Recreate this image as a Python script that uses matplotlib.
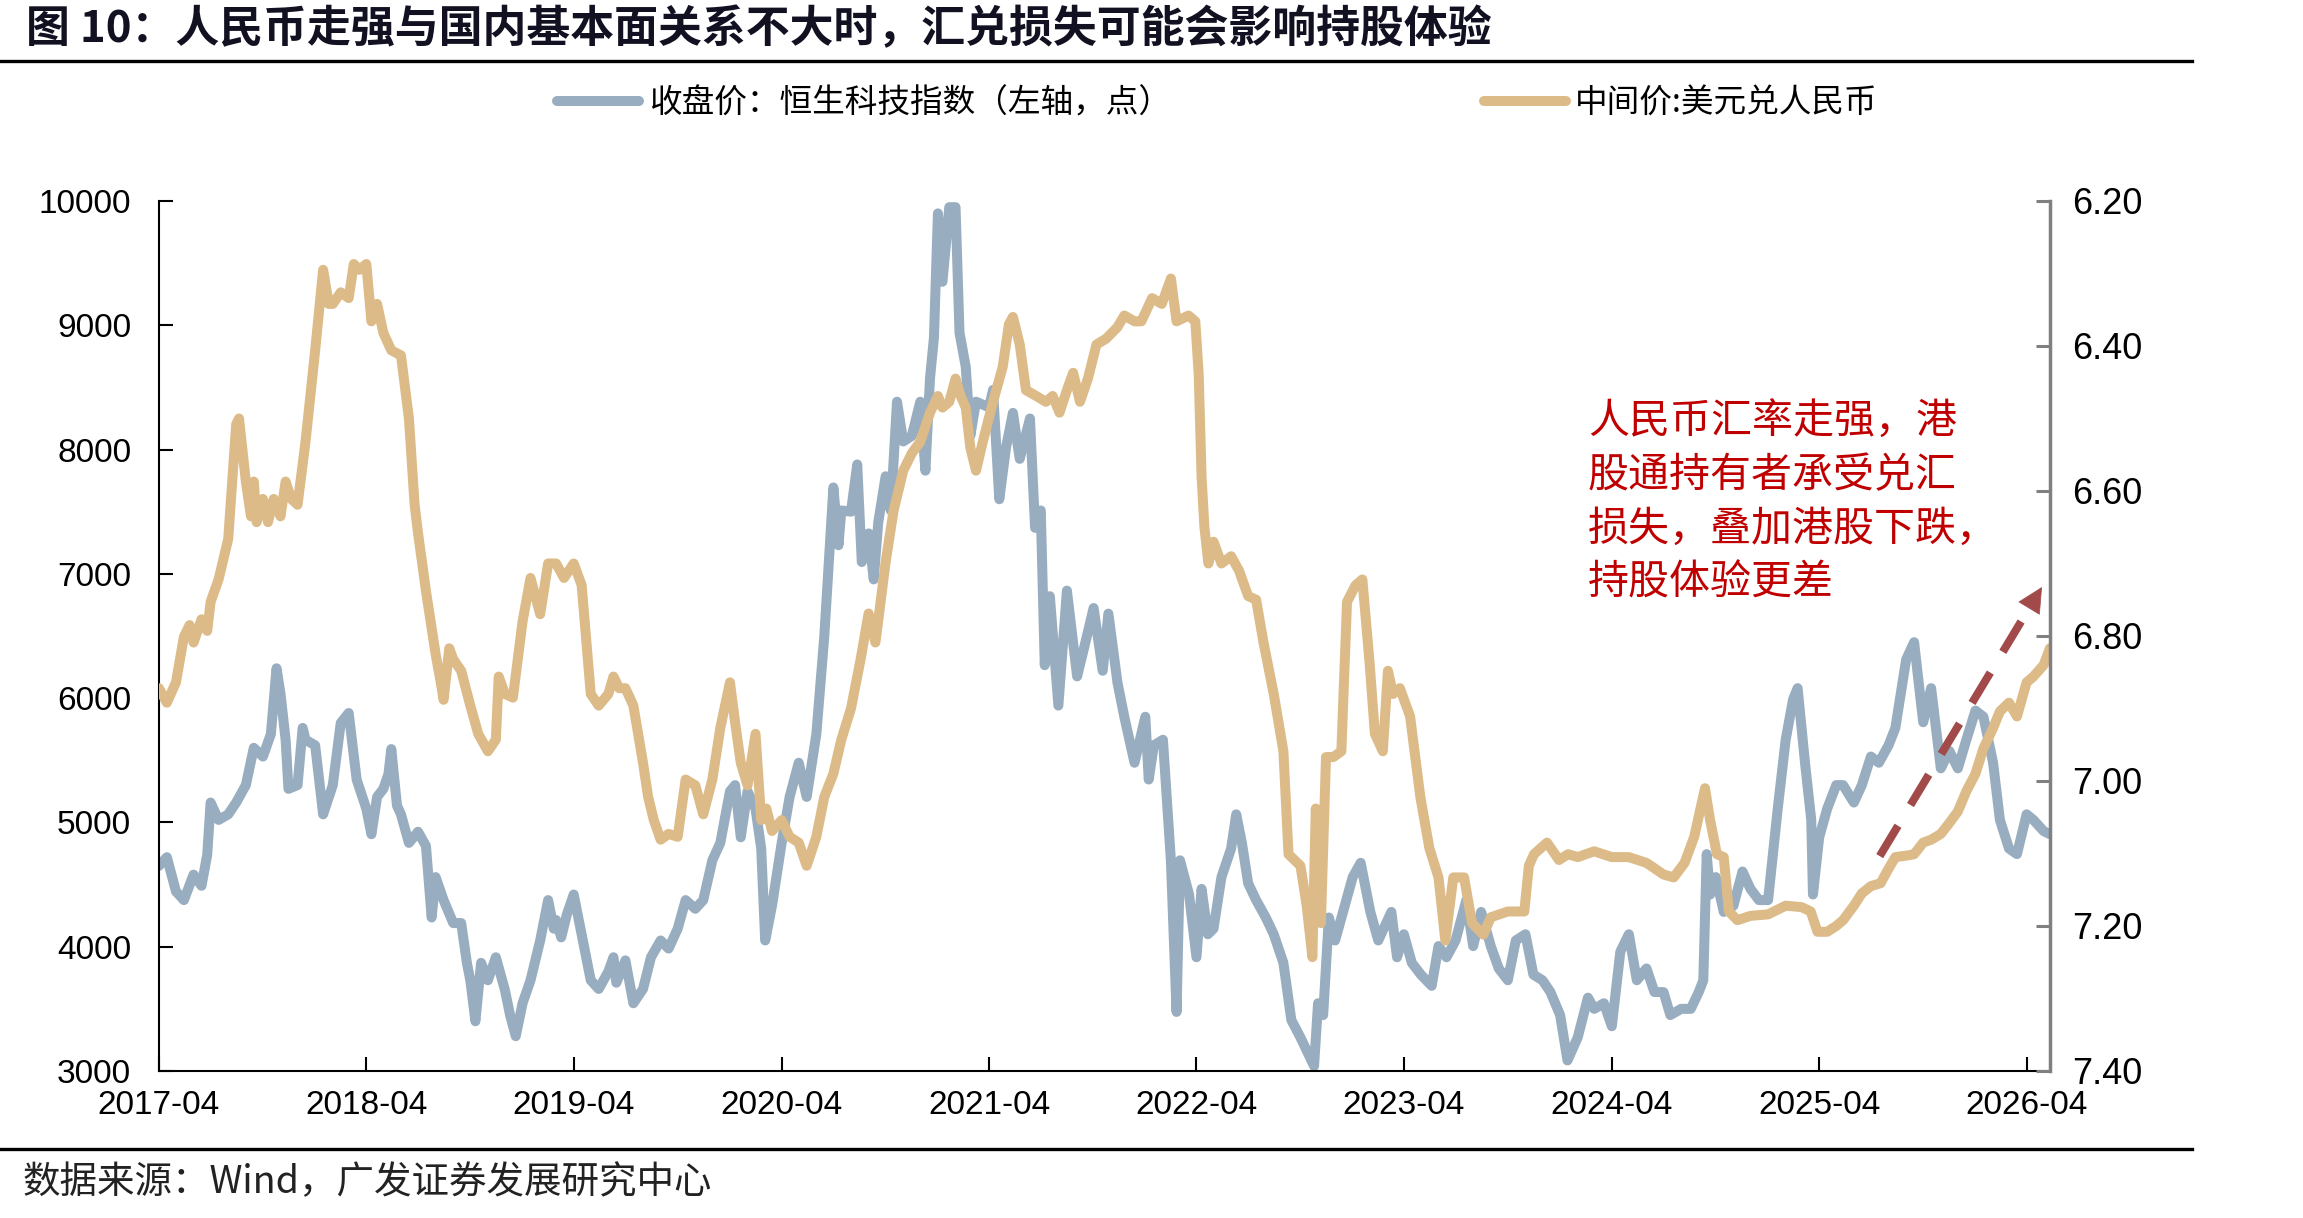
import matplotlib
matplotlib.use("Agg")
import matplotlib.pyplot as plt
import matplotlib.dates as mdates
from matplotlib.lines import Line2D
import pandas as pd

# ---------------- data ----------------
hs_dates = [
    # 2017
    "2017-04-01", "2017-04-15", "2017-05-01", "2017-05-15", "2017-06-01", "2017-06-15", "2017-06-25",
    "2017-07-01", "2017-07-15", "2017-08-01", "2017-08-15", "2017-09-01", "2017-09-15", "2017-10-01",
    "2017-10-15", "2017-10-25", "2017-11-01", "2017-11-10", "2017-11-15", "2017-12-01", "2017-12-10",
    "2017-12-15",
    # 2018
    "2018-01-01", "2018-01-15", "2018-02-01", "2018-02-15", "2018-03-01", "2018-03-15", "2018-04-01",
    "2018-04-10", "2018-04-20", "2018-05-01", "2018-05-10", "2018-05-15", "2018-05-25", "2018-06-01",
    "2018-06-15", "2018-07-01", "2018-07-15", "2018-07-25", "2018-08-01", "2018-08-15", "2018-09-01",
    "2018-09-15", "2018-09-25", "2018-10-01", "2018-10-10", "2018-10-20", "2018-11-01", "2018-11-15",
    "2018-12-01", "2018-12-10", "2018-12-20",
    # 2019
    "2019-01-01", "2019-01-15", "2019-02-01", "2019-02-15", "2019-02-25", "2019-03-01", "2019-03-10",
    "2019-03-20", "2019-04-01", "2019-04-15", "2019-05-01", "2019-05-15", "2019-06-01", "2019-06-10",
    "2019-06-15", "2019-07-01", "2019-07-15", "2019-08-01", "2019-08-15", "2019-09-01", "2019-09-15",
    "2019-10-01", "2019-10-15", "2019-11-01", "2019-11-15", "2019-12-01", "2019-12-15",
    # 2020
    "2020-01-01", "2020-01-10", "2020-01-20", "2020-02-01", "2020-02-15", "2020-02-25", "2020-03-03",
    "2020-03-15", "2020-04-01", "2020-04-15", "2020-05-01", "2020-05-15", "2020-06-01", "2020-06-15",
    "2020-07-01", "2020-07-10", "2020-07-15", "2020-08-01", "2020-08-12", "2020-08-20", "2020-09-01",
    "2020-09-10", "2020-09-18", "2020-10-01", "2020-10-10", "2020-10-21", "2020-11-01", "2020-11-16",
    "2020-12-01", "2020-12-10", "2020-12-18", "2020-12-25",
    # 2021
    "2021-01-01", "2021-01-09", "2021-01-21", "2021-02-01", "2021-02-08", "2021-02-19", "2021-02-27",
    "2021-03-09", "2021-04-01", "2021-04-08", "2021-04-19", "2021-05-01", "2021-05-13", "2021-05-25",
    "2021-06-12", "2021-06-21", "2021-07-01", "2021-07-08", "2021-07-17", "2021-08-01", "2021-08-16",
    "2021-09-03", "2021-09-15", "2021-10-02", "2021-10-18", "2021-10-28", "2021-11-13", "2021-11-25",
    "2021-12-13",
    # 2022
    "2022-01-01", "2022-01-07", "2022-01-16", "2022-02-01", "2022-02-09", "2022-02-15", "2022-02-25",
    "2022-03-03", "2022-03-19", "2022-04-01", "2022-04-10", "2022-04-21", "2022-05-01", "2022-05-15",
    "2022-06-01", "2022-06-10", "2022-06-20", "2022-07-01", "2022-07-15", "2022-08-01", "2022-08-15",
    "2022-09-01", "2022-09-15", "2022-10-01", "2022-10-25", "2022-11-01", "2022-11-10", "2022-11-20",
    "2022-12-01", "2022-12-15",
    # 2023
    "2023-01-01", "2023-01-15", "2023-02-01", "2023-02-15", "2023-03-01", "2023-03-10", "2023-03-20",
    "2023-04-01", "2023-04-15", "2023-05-01", "2023-05-20", "2023-06-01", "2023-06-15", "2023-07-01",
    "2023-07-20", "2023-08-01", "2023-08-15", "2023-09-01", "2023-09-15", "2023-10-01", "2023-10-15",
    "2023-11-01", "2023-11-15", "2023-12-01", "2023-12-15",
    # 2024
    "2024-01-01", "2024-01-14", "2024-02-01", "2024-02-19", "2024-03-01", "2024-03-18", "2024-04-01",
    "2024-04-16", "2024-05-01", "2024-05-15", "2024-06-01", "2024-06-15", "2024-07-01", "2024-07-13",
    "2024-08-01", "2024-08-18", "2024-09-01", "2024-09-09", "2024-09-15", "2024-09-21", "2024-10-01",
    "2024-10-15", "2024-11-01", "2024-11-17", "2024-12-01", "2024-12-16",
    # 2025
    "2025-01-01", "2025-01-18", "2025-02-01", "2025-02-14", "2025-02-22", "2025-03-07", "2025-03-18",
    "2025-03-21", "2025-04-01", "2025-04-15", "2025-05-01", "2025-05-13", "2025-06-01", "2025-06-15",
    "2025-07-01", "2025-07-15", "2025-08-01", "2025-08-13", "2025-09-01", "2025-09-15", "2025-10-01",
    "2025-10-15", "2025-11-01", "2025-11-16", "2025-12-01", "2025-12-16",
    # 2026
    "2026-01-01", "2026-01-15", "2026-02-01", "2026-02-13", "2026-03-01", "2026-03-15", "2026-04-01",
    "2026-04-13", "2026-05-01", "2026-05-12",
]
hs_values = [
    # 2017
    4650, 4720, 4445, 4375, 4580, 4490, 4740,
    5160, 5020, 5065, 5160, 5300, 5600, 5530,
    5710, 6240, 6035, 5665, 5270, 5300, 5760,
    5665,
    # 2018
    5620, 5065, 5300, 5800, 5880, 5345, 5110,
    4905, 5205, 5270, 5390, 5590, 5135, 5065,
    4835, 4925, 4810, 4235, 4560, 4375, 4190,
    4190, 3870, 3730, 3400, 3870, 3730, 3915,
    3650, 3450, 3280,
    # 2019
    3545, 3730, 4050, 4375, 4145, 4215, 4075,
    4260, 4420, 4100, 3730, 3660, 3800, 3915,
    3710, 3890, 3545, 3660, 3915, 4050, 3985,
    4145, 4375, 4305, 4375, 4695, 4835,
    # 2020
    5250, 5300, 4880, 5250, 5110, 4790, 4050,
    4330, 4835, 5205, 5480, 5205, 5710, 6495,
    7695, 7230, 7510, 7500, 7880, 7095, 7325,
    6955, 7415, 7785, 7510, 8385, 8065, 8110,
    8385, 7830, 8570, 8900,
    # 2021
    9900, 9350, 9950, 9950, 8940, 8665, 8110,
    8385, 8340, 8480, 7600, 8020, 8295, 7925,
    8250, 7370, 7510, 6265, 6820, 5940, 6865,
    6175, 6400, 6725, 6220, 6680, 6125, 5850,
    5480,
    # 2022
    5850, 5345, 5620, 5665, 5110, 4695, 3475,
    4695, 4420, 3915, 4465, 4100, 4145, 4560,
    4790, 5065, 4835, 4510, 4375, 4235, 4100,
    3870, 3410, 3270, 3040, 3545, 3450, 4235,
    4050, 4280,
    # 2023
    4560, 4675, 4280, 4050, 4190, 4280, 3915,
    4100, 3870, 3775, 3685, 4005, 3915, 4050,
    4375, 4005, 4280, 4005, 3825, 3730, 4050,
    4100, 3775, 3730, 3635,
    # 2024
    3450, 3085, 3270, 3590, 3500, 3545, 3360,
    3960, 4100, 3730, 3825, 3635, 3635, 3450,
    3500, 3500, 3635, 3730, 4745, 4420, 4560,
    4280, 4330, 4605, 4465, 4375,
    # 2025
    4375, 5110, 5665, 5990, 6080, 5480, 5020,
    4420, 4880, 5110, 5300, 5300, 5160, 5300,
    5530, 5480, 5620, 5760, 6310, 6450, 5806,
    6080, 5435, 5575, 5435, 5665,
    # 2026
    5900, 5850, 5480, 5020, 4790, 4745, 5065,
    5020, 4930, 4905,
]

fx_dates = [
    # 2017
    "2017-04-01", "2017-04-15", "2017-05-01", "2017-05-15", "2017-05-25", "2017-06-01", "2017-06-15",
    "2017-06-25", "2017-07-01", "2017-07-15", "2017-08-01", "2017-08-15", "2017-08-20", "2017-09-01",
    "2017-09-10", "2017-09-15", "2017-09-20", "2017-10-01", "2017-10-10", "2017-10-20", "2017-11-01",
    "2017-11-10", "2017-11-20", "2017-12-01", "2017-12-15",
    # 2018
    "2018-01-01", "2018-01-15", "2018-01-25", "2018-02-01", "2018-02-15", "2018-03-01", "2018-03-10",
    "2018-03-20", "2018-04-01", "2018-04-10", "2018-04-20", "2018-05-01", "2018-05-15", "2018-06-01",
    "2018-06-15", "2018-06-25", "2018-07-01", "2018-07-15", "2018-08-01", "2018-08-10", "2018-08-15",
    "2018-08-25", "2018-09-01", "2018-09-15", "2018-10-01", "2018-10-15", "2018-11-01", "2018-11-15",
    "2018-11-20", "2018-12-01", "2018-12-15",
    # 2019
    "2019-01-01", "2019-01-15", "2019-02-01", "2019-02-15", "2019-03-01", "2019-03-15", "2019-04-01",
    "2019-04-15", "2019-05-01", "2019-05-15", "2019-06-01", "2019-06-10", "2019-06-20", "2019-07-01",
    "2019-07-15", "2019-08-01", "2019-08-10", "2019-08-20", "2019-09-01", "2019-09-15", "2019-10-01",
    "2019-10-15", "2019-11-01", "2019-11-15", "2019-12-01", "2019-12-15",
    # 2020
    "2020-01-01", "2020-01-10", "2020-01-20", "2020-02-01", "2020-02-15", "2020-02-25", "2020-03-05",
    "2020-03-15", "2020-04-01", "2020-04-15", "2020-05-01", "2020-05-15", "2020-06-01", "2020-06-15",
    "2020-07-01", "2020-07-15", "2020-08-01", "2020-08-18", "2020-09-01", "2020-09-13", "2020-10-01",
    "2020-10-15", "2020-11-01", "2020-11-16", "2020-12-01", "2020-12-18",
    # 2021
    "2021-01-01", "2021-01-09", "2021-01-21", "2021-02-01", "2021-02-10", "2021-02-19", "2021-02-27",
    "2021-03-09", "2021-03-21", "2021-04-08", "2021-04-25", "2021-05-06", "2021-05-13", "2021-05-25",
    "2021-06-05", "2021-06-23", "2021-07-10", "2021-07-22", "2021-08-03", "2021-08-16", "2021-08-27",
    "2021-09-08", "2021-09-22", "2021-10-07", "2021-10-24", "2021-11-13", "2021-11-25", "2021-12-13",
    "2021-12-25",
    # 2022
    "2022-01-13", "2022-01-30", "2022-02-15", "2022-02-25", "2022-03-18", "2022-03-30", "2022-04-05",
    "2022-04-10", "2022-04-15", "2022-04-22", "2022-05-01", "2022-05-15", "2022-06-01", "2022-06-15",
    "2022-07-01", "2022-07-15", "2022-07-28", "2022-08-15", "2022-09-01", "2022-09-10", "2022-10-01",
    "2022-10-12", "2022-10-22", "2022-10-28", "2022-11-06", "2022-11-15", "2022-11-28", "2022-12-12",
    "2022-12-22",
    # 2023
    "2023-01-06", "2023-01-18", "2023-01-31", "2023-02-09", "2023-02-23", "2023-03-04", "2023-03-13",
    "2023-03-25", "2023-04-12", "2023-04-30", "2023-05-16", "2023-06-01", "2023-06-13", "2023-06-27",
    "2023-07-16", "2023-07-30", "2023-08-19", "2023-09-01", "2023-10-01", "2023-10-30", "2023-11-07",
    "2023-11-16", "2023-12-09", "2023-12-30",
    # 2024
    "2024-01-15", "2024-02-01", "2024-03-01", "2024-04-01", "2024-05-01", "2024-06-01", "2024-07-01",
    "2024-07-19", "2024-08-07", "2024-08-24", "2024-09-12", "2024-09-21", "2024-10-03", "2024-10-15",
    "2024-10-24", "2024-11-08", "2024-12-01",
    # 2025
    "2025-01-01", "2025-02-01", "2025-03-01", "2025-03-17", "2025-03-29", "2025-04-15", "2025-05-01",
    "2025-05-13", "2025-06-01", "2025-06-15", "2025-07-01", "2025-07-18", "2025-08-01", "2025-08-13",
    "2025-09-01", "2025-09-15", "2025-10-01", "2025-10-15", "2025-11-01", "2025-11-16", "2025-12-01",
    "2025-12-16",
    # 2026
    "2026-01-01", "2026-01-15", "2026-02-01", "2026-02-13", "2026-03-01", "2026-03-15", "2026-04-01",
    "2026-04-13", "2026-05-01", "2026-05-12",
]
fx_values = [
    # 2017
    6.872, 6.892, 6.864, 6.801, 6.785, 6.809, 6.777,
    6.793, 6.753, 6.722, 6.666, 6.508, 6.500, 6.587,
    6.635, 6.587, 6.643, 6.611, 6.643, 6.611, 6.635,
    6.587, 6.611, 6.619, 6.532,
    # 2018
    6.406, 6.295, 6.342, 6.342, 6.326, 6.334, 6.287,
    6.295, 6.287, 6.366, 6.342, 6.382, 6.406, 6.413,
    6.500, 6.619, 6.658, 6.738, 6.825, 6.864, 6.888,
    6.817, 6.832, 6.848, 6.896, 6.935, 6.959, 6.943,
    6.856, 6.880, 6.885,
    # 2019
    6.780, 6.720, 6.770, 6.700, 6.700, 6.720, 6.700,
    6.730, 6.880, 6.896, 6.880, 6.856, 6.872, 6.872,
    6.896, 6.975, 7.022, 7.054, 7.081, 7.073, 7.077,
    6.998, 7.006, 7.046, 6.998, 6.927,
    # 2020
    6.864, 6.919, 6.975, 7.006, 6.935, 7.054, 7.038,
    7.069, 7.054, 7.077, 7.085, 7.117, 7.077, 7.022,
    6.990, 6.943, 6.900, 6.832, 6.769, 6.809, 6.698,
    6.627, 6.572, 6.548, 6.532, 6.492,
    # 2021
    6.469, 6.485, 6.477, 6.445, 6.469, 6.485, 6.540,
    6.572, 6.532, 6.477, 6.429, 6.370, 6.360, 6.398,
    6.461, 6.469, 6.477, 6.469, 6.492, 6.461, 6.437,
    6.477, 6.445, 6.398, 6.390, 6.374, 6.358, 6.366,
    6.366,
    # 2022
    6.334, 6.342, 6.307, 6.366, 6.358, 6.366, 6.440,
    6.580, 6.650, 6.700, 6.670, 6.700, 6.690, 6.710,
    6.745, 6.750, 6.809, 6.880, 6.959, 7.101, 7.117,
    7.172, 7.243, 7.038, 7.196, 6.967, 6.967, 6.959,
    6.753,
    # 2023
    6.730, 6.722, 6.840, 6.935, 6.959, 6.848, 6.880,
    6.872, 6.911, 7.022, 7.093, 7.133, 7.220, 7.133,
    7.133, 7.196, 7.212, 7.188, 7.180, 7.180, 7.117,
    7.101, 7.085, 7.109,
    # 2024
    7.101, 7.105, 7.097, 7.105, 7.105, 7.113, 7.129,
    7.133, 7.113, 7.077, 7.010, 7.054, 7.101, 7.105,
    7.180, 7.192, 7.186,
    # 2025
    7.184, 7.172, 7.174, 7.180, 7.208, 7.208, 7.200,
    7.192, 7.172, 7.155, 7.145, 7.141, 7.121, 7.105,
    7.103, 7.101, 7.085, 7.081, 7.073, 7.058, 7.042,
    7.014,
    # 2026
    6.990, 6.955, 6.927, 6.904, 6.892, 6.911, 6.864,
    6.856, 6.840, 6.817,
]

x_tick_labels = ["2017-04", "2018-04", "2019-04", "2020-04", "2021-04",
                 "2022-04", "2023-04", "2024-04", "2025-04", "2026-04"]
left_ticks = [3000, 4000, 5000, 6000, 7000, 8000, 9000, 10000]
right_ticks = [6.20, 6.40, 6.60, 6.80, 7.00, 7.20, 7.40]
x_range = ["2017-04-01", "2026-05-12"]

title_text = "图 10：人民币走强与国内基本面关系不大时，汇兑损失可能会影响持股体验"
legend_labels = ["收盘价：恒生科技指数（左轴，点）", "中间价:美元兑人民币"]
note_lines = ["人民币汇率走强，港", "股通持有者承受兑汇", "损失，叠加港股下跌，", "持股体验更差"]
source_text = "数据来源：Wind，广发证券发展研究中心"

assert len(hs_dates) == len(hs_values)
assert len(fx_dates) == len(fx_values)

# ---------------- style ----------------
CJK = ["Noto Sans CJK SC", "DejaVu Sans"]
LAT = ["Liberation Sans", "DejaVu Sans"]
BLUE = "#98ADBF"
GOLD = "#DCBB88"
RED = "#C00000"
ARROW = "#A24A4A"
LW = 7.2

fig = plt.figure(figsize=(23.03, 12.18), dpi=100)
ax = fig.add_axes([0.0690, 0.1207, 0.8211, 0.7143])
ax2 = ax.twinx()

hs_x = mdates.date2num(pd.to_datetime(hs_dates))
fx_x = mdates.date2num(pd.to_datetime(fx_dates))

l1, = ax.plot(hs_x, hs_values, color=BLUE, lw=LW, solid_joinstyle="round",
              solid_capstyle="round")
l2, = ax2.plot(fx_x, fx_values, color=GOLD, lw=LW, solid_joinstyle="round",
               solid_capstyle="round")

ax.set_xlim(mdates.date2num(pd.to_datetime(x_range)))
ax.set_ylim(3000, 10000)
ax2.set_ylim(7.40, 6.20)

xt = mdates.date2num(pd.to_datetime([s + "-01" for s in x_tick_labels]))
ax.set_xticks(xt)
ax.set_xticklabels(x_tick_labels, fontsize=24, family=LAT)
ax.set_yticks(left_ticks)
ax.set_yticklabels([str(v) for v in left_ticks], fontsize=24, family=LAT)
ax2.set_yticks(right_ticks)
ax2.set_yticklabels(["%.2f" % v for v in right_ticks], fontsize=26, family=LAT)

ax.tick_params(axis="x", direction="in", length=10, width=1.5, pad=14)
ax.tick_params(axis="y", direction="in", length=10, width=1.5, pad=20)
ax2.tick_params(axis="y", direction="in", length=10, width=2.2, color="#808080", pad=16)

for s in ["top", "right"]:
    ax.spines[s].set_visible(False)
for s in ["left", "bottom"]:
    ax.spines[s].set_linewidth(1.5)
    ax.spines[s].set_color("black")
for s in ["top", "left", "bottom"]:
    ax2.spines[s].set_visible(False)
ax2.spines["right"].set_color("#808080")
ax2.spines["right"].set_linewidth(2.5)

# dashed trend arrow (axes-fraction coordinates)
ax.plot([0.910, 0.9894], [0.247, 0.5333], transform=ax.transAxes, color=ARROW, lw=5.8,
        ls=(0, (4.4, 3.0)), dash_capstyle="butt", clip_on=False, zorder=5)
ax.annotate("", xy=(0.9958, 0.5563), xytext=(0.9894, 0.5333),
            xycoords="axes fraction", textcoords="axes fraction",
            arrowprops=dict(arrowstyle="-|>,head_length=0.86,head_width=0.43",
                            color=ARROW, lw=0.5, shrinkA=0, shrinkB=0,
                            mutation_scale=20), zorder=6)

# annotation text
for line, yc in zip(note_lines, [0.6544, 0.6092, 0.5657, 0.5213]):
    fig.text(0.6895, yc, line, color=RED, fontsize=29.5, family=CJK,
             ha="left", va="center")

# title, rules, legend, source
fig.text(0.0113, 0.9760, title_text, fontsize=31.6, fontweight="bold", family=CJK,
         color="#111122", ha="left", va="center")
fig.add_artist(Line2D([0, 0.952], [0.950, 0.950], transform=fig.transFigure,
                      color="black", lw=2.4))
fig.add_artist(Line2D([0, 0.952], [0.0567, 0.0567], transform=fig.transFigure,
                      color="black", lw=2.4))
fig.legend([l1, l2], legend_labels, loc="center", bbox_to_anchor=(0.5287, 0.915),
           ncol=2, frameon=False, handlelength=2.5, handletextpad=0.3,
           columnspacing=9.6, prop={"family": CJK, "size": 23.5})
fig.text(0.0096, 0.0287, source_text, fontsize=27, family=CJK, color="#222222",
         ha="left", va="center")

fig.savefig("out.png", dpi=100)
